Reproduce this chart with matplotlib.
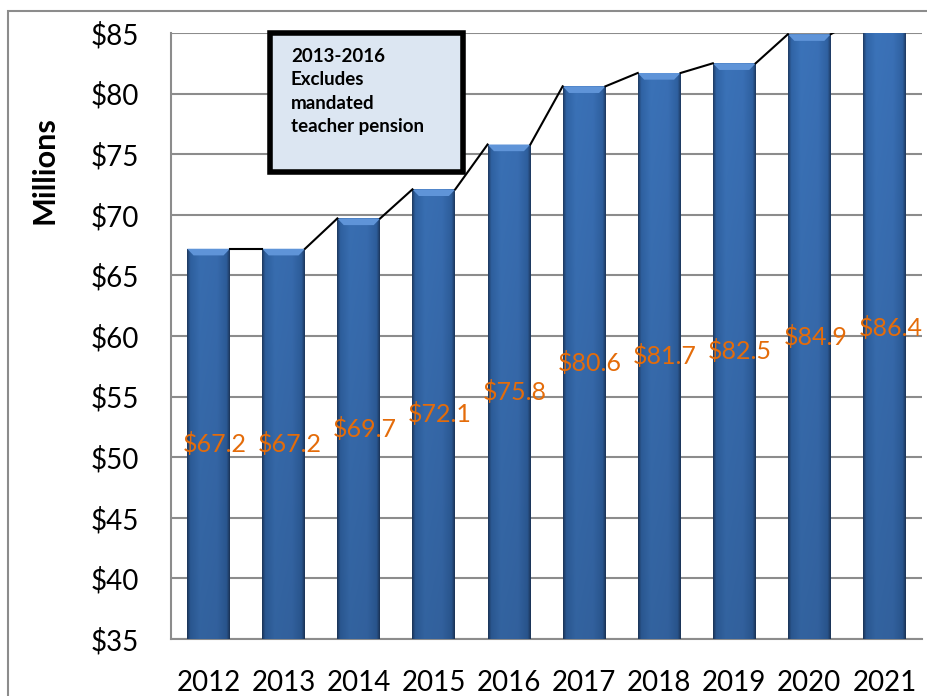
import matplotlib
matplotlib.use('Agg')
import matplotlib.pyplot as plt
from matplotlib.patches import Rectangle, Polygon
from matplotlib.colors import LinearSegmentedColormap
import numpy as np

plt.rcParams['font.family'] = ['Lato', 'DejaVu Sans']

years = ['2012', '2013', '2014', '2015', '2016', '2017', '2018', '2019', '2020', '2021']
values = [67.2, 67.2, 69.7, 72.1, 75.8, 80.6, 81.7, 82.5, 84.9, 86.4]
yticks = [35, 40, 45, 50, 55, 60, 65, 70, 75, 80, 85]
note = '2013-2016\nExcludes\nmandated\nteacher pension'

ymin, ymax = 35, 85
w = 0.57

fig = plt.figure(figsize=(9.27, 6.96), dpi=100)
ax = fig.add_axes([171/927, 1 - 639/696, 751/927, 606/696])

x = np.arange(len(years))
bars = ax.bar(x, [v - ymin for v in values], bottom=ymin, width=w,
              color='#3a6fb5', zorder=2, linewidth=0)

# shading: thin dark sides, slightly darker toward the bottom
cmap = LinearSegmentedColormap.from_list('barshade', [
    (0, '#203d66'), (0.07, '#3064a6'), (0.3, '#3b73b9'),
    (0.7, '#3a70b6'), (0.93, '#2f61a1'), (1, '#1f3b63')])
prof = cmap(np.linspace(0, 1, 64))[:, :3]
fade = np.linspace(1.0, 0.86, 100).reshape(-1, 1, 1)
shade = np.clip(prof[None, :, :] * fade, 0, 1)
for b, v in zip(bars, values):
    x0 = b.get_x()
    im = ax.imshow(shade, aspect='auto', extent=[x0, x0 + w, ymin, ymax],
                   zorder=3, interpolation='bilinear', origin='upper')
    im.set_clip_path(b)
    # lighter bevel on top
    h = 0.55
    ax.add_patch(Polygon([[x0, v], [x0 + w, v], [x0 + w * 0.85, v - h], [x0 + w * 0.15, v - h]],
                         closed=True, color='#5f94d8', zorder=4, lw=0))

# connecting line between bar tops
for i in range(len(values) - 1):
    ax.plot([x[i] + w / 2, x[i + 1] - w / 2], [values[i], values[i + 1]],
            color='black', lw=1.5, zorder=5)

for i, v in enumerate(values):
    ax.text(x[i] + 0.08, (ymin + v) / 2, f'${v}', ha='center', va='center',
            color='#e46c0a', fontsize=18, zorder=6)

ax.set_xlim(-0.5, len(years) - 0.5)
ax.set_ylim(ymin, ymax)
ax.set_yticks(yticks)
ax.set_yticklabels([f'${t}' for t in yticks])
ax.set_xticks(x)
ax.set_xticklabels(years)
ax.tick_params(axis='both', length=0, labelsize=20)
ax.tick_params(axis='y', pad=23)
ax.tick_params(axis='x', pad=22)
ax.yaxis.grid(True, color='#8c8c8c', lw=1.5, zorder=0)
ax.set_axisbelow(True)
for s in ['top', 'right']:
    ax.spines[s].set_visible(False)
for s in ['left', 'bottom']:
    ax.spines[s].set_color('#8c8c8c')
    ax.spines[s].set_linewidth(1.5)

ax.set_ylabel('Millions', fontsize=22, fontweight='bold')
ax.yaxis.set_label_coords(-0.15, 0.774)

# note box
fig.patches.append(Rectangle((270/927, 1 - 172/696), 193/927, 139/696, transform=fig.transFigure,
                             facecolor='#dce6f2', edgecolor='black', lw=4, zorder=10))
fig.text(291/927, 1 - 48/696, note, ha='left', va='top', fontsize=13.5, fontweight='bold',
         linespacing=1.45, zorder=11)

# outer chart border
fig.patches.append(Rectangle((8/927, -0.1), 1.2, 1.1 - 11/696, transform=fig.transFigure,
                             fill=False, edgecolor='#8c8c8c', lw=1.5, zorder=0))

fig.savefig('out.png', dpi=100)
